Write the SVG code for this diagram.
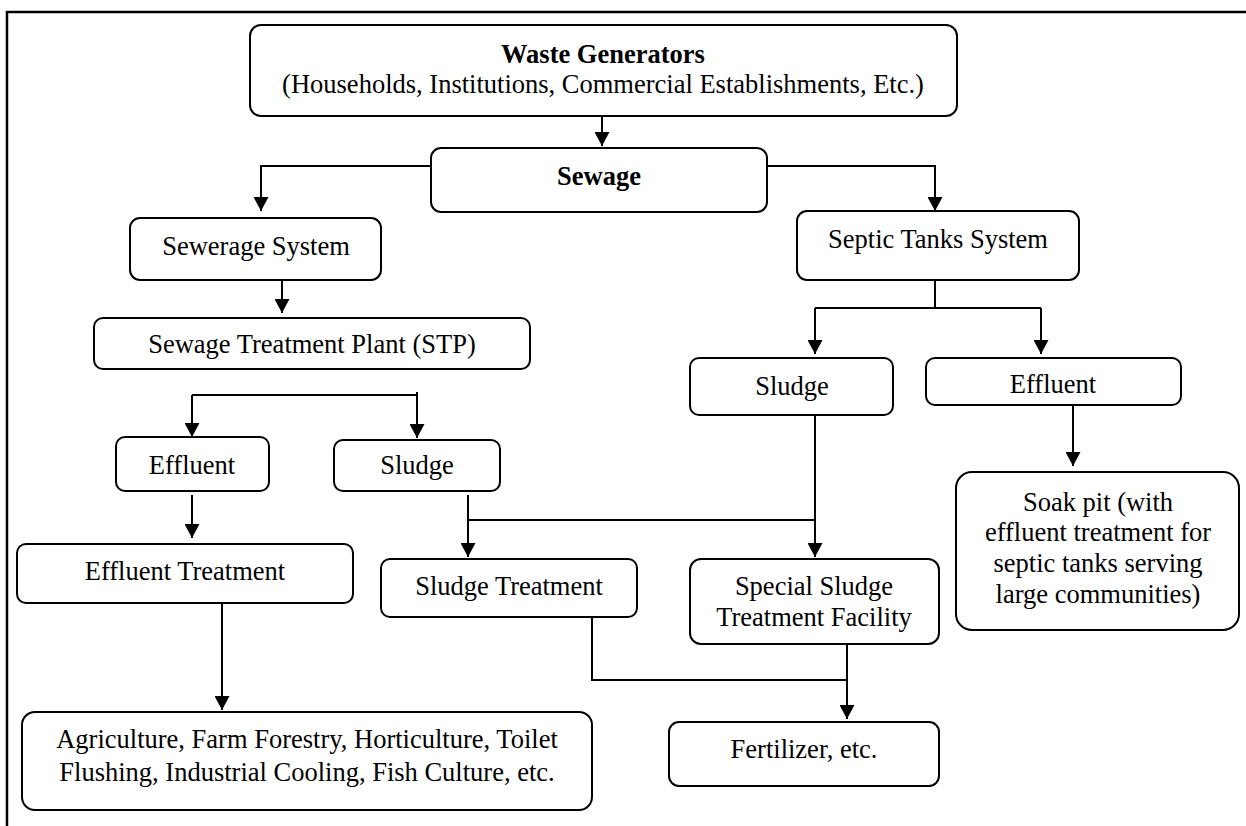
<svg xmlns="http://www.w3.org/2000/svg" width="1246" height="826" viewBox="0 0 1246 826">
<defs>
<style>
.box{fill:#fff;stroke:#000;stroke-width:2}
.t{font-family:"Liberation Serif","Times New Roman",serif;font-size:26.5px;fill:#000;text-anchor:middle}
.b{font-weight:bold}
.c{fill:none;stroke:#000;stroke-width:2}
.a{marker-end:url(#arr)}
</style>
<marker id="arr" viewBox="0 0 14 15" refX="14" refY="7.5" markerWidth="14" markerHeight="15" markerUnits="userSpaceOnUse" orient="auto">
<path d="M0,0 L14,7.5 L0,15 z" fill="#000"/>
</marker>
</defs>
<rect width="1246" height="826" fill="#fff"/>
<path d="M7,826 V12 H1246" fill="none" stroke="#000" stroke-width="2.5"/>

<g id="connectors">
<path class="c a" d="M602,116 V146"/>
<path class="c a" d="M431,166 H261 V211"/>
<path class="c a" d="M767,166 H935 V211"/>
<path class="c a" d="M282,280 V313"/>
<path class="c a" d="M192,395 V437"/>
<path class="c" d="M192,395 H417 V392"/>
<path class="c a" d="M417,395 V438"/>
<path class="c a" d="M192,495 V538"/>
<path class="c a" d="M222,603 V710"/>
<path class="c a" d="M468,495 V557"/>
<path class="c" d="M468,520 H815"/>
<path class="c a" d="M815,415 V557"/>
<path class="c" d="M592,617 V680 H847"/>
<path class="c a" d="M847,644 V719"/>
<path class="c" d="M935,280 V308"/>
<path class="c" d="M815,308 H1041"/>
<path class="c a" d="M815,308 V354"/>
<path class="c a" d="M1041,308 V354"/>
<path class="c a" d="M1073,405 V466"/>
</g>

<g id="waste-generators">
<rect class="box" x="250" y="25" width="707" height="91" rx="11"/>
<text class="t b" x="603" y="63">Waste Generators</text>
<text class="t" x="603" y="93">(Households, Institutions, Commercial Establishments, Etc.)</text>
</g>
<g id="sewage">
<rect class="box" x="431" y="148" width="336" height="64" rx="10"/>
<text class="t b" x="599" y="185">Sewage</text>
</g>
<g id="sewerage-system">
<rect class="box" x="130" y="218" width="251" height="62" rx="10"/>
<text class="t" x="256" y="255">Sewerage System</text>
</g>
<g id="septic-tanks-system">
<rect class="box" x="797" y="211" width="282" height="69" rx="10"/>
<text class="t" x="938" y="248">Septic Tanks System</text>
</g>
<g id="stp">
<rect class="box" x="94" y="318" width="436" height="51" rx="9"/>
<text class="t" x="312" y="353">Sewage Treatment Plant (STP)</text>
</g>
<g id="sludge-septic">
<rect class="box" x="690" y="358" width="203" height="57" rx="9"/>
<text class="t" x="792" y="395">Sludge</text>
</g>
<g id="effluent-septic">
<rect class="box" x="926" y="358" width="255" height="47" rx="9"/>
<text class="t" x="1053" y="393">Effluent</text>
</g>
<g id="effluent-stp">
<rect class="box" x="116" y="437" width="153" height="54" rx="9"/>
<text class="t" x="192" y="474">Effluent</text>
</g>
<g id="sludge-stp">
<rect class="box" x="334" y="440" width="166" height="51" rx="9"/>
<text class="t" x="417" y="474">Sludge</text>
</g>
<g id="effluent-treatment">
<rect class="box" x="17" y="544" width="336" height="59" rx="9"/>
<text class="t" x="185" y="580">Effluent Treatment</text>
</g>
<g id="sludge-treatment">
<rect class="box" x="381" y="559" width="256" height="58" rx="9"/>
<text class="t" x="509" y="595">Sludge Treatment</text>
</g>
<g id="special-sludge-treatment">
<rect class="box" x="690" y="559" width="249" height="85" rx="11"/>
<text class="t" x="814" y="595">Special Sludge</text>
<text class="t" x="814" y="626">Treatment Facility</text>
</g>
<g id="soak-pit">
<rect class="box" x="956" y="472" width="283" height="158" rx="16"/>
<text class="t" x="1098" y="511">Soak pit (with</text>
<text class="t" x="1098" y="541">effluent treatment for</text>
<text class="t" x="1098" y="572">septic tanks serving</text>
<text class="t" x="1098" y="603">large communities)</text>
</g>
<g id="agriculture">
<rect class="box" x="22" y="712" width="570" height="98" rx="13"/>
<text class="t" x="307" y="748">Agriculture, Farm Forestry, Horticulture, Toilet</text>
<text class="t" x="307" y="781">Flushing, Industrial Cooling, Fish Culture, etc.</text>
</g>
<g id="fertilizer">
<rect class="box" x="669" y="722" width="270" height="64" rx="10"/>
<text class="t" x="804" y="758">Fertilizer, etc.</text>
</g>
</svg>
